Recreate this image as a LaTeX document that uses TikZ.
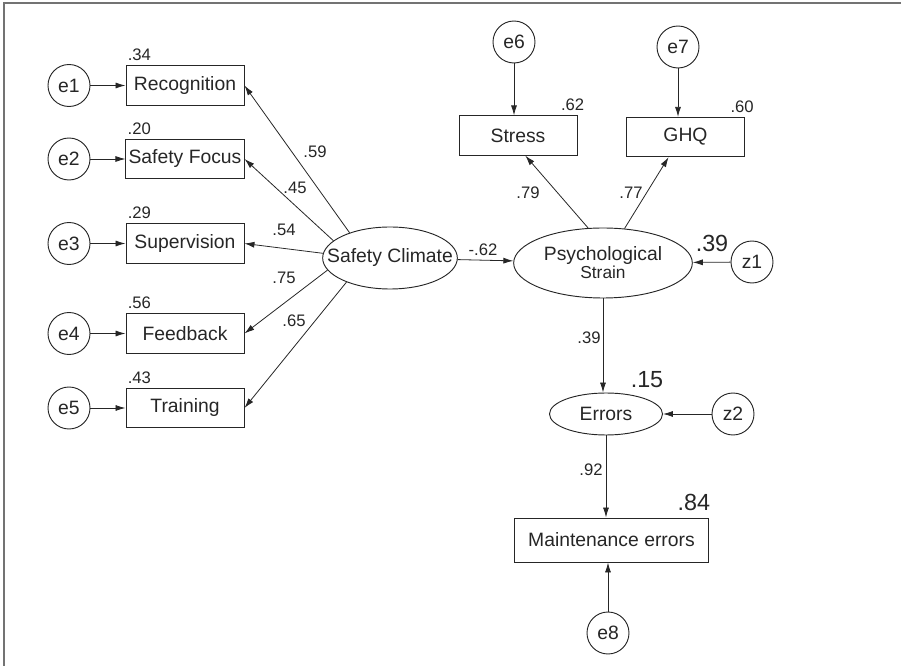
\documentclass[tikz,border=0pt]{standalone}
\usepackage{fontspec}
\setmainfont{Liberation Sans}
\usepackage{xcolor}
\usepackage{tikz}
\usetikzlibrary{arrows.meta,shapes.geometric}
\definecolor{ink}{gray}{0.15}
\definecolor{framegray}{gray}{0.45}
\tikzset{
  observed/.style={draw=ink,text=ink,rectangle,line width=0.7pt,inner sep=2pt,
    minimum width=88.5pt,minimum height=29.5pt,font=\fontsize{14.5}{16}\selectfont},
  latent/.style={draw=ink,text=ink,ellipse,line width=0.7pt,inner sep=0pt,
    font=\fontsize{14.5}{16}\selectfont},
  residual/.style={draw=ink,text=ink,circle,line width=0.7pt,inner sep=0pt,
    minimum size=31.5pt,font=\fontsize{14.5}{16}\selectfont},
  coef/.style={text=ink,inner sep=0pt,font=\fontsize{12.5}{14}\selectfont},
  bigcoef/.style={text=ink,inner sep=0pt,font=\fontsize{17.5}{19}\selectfont},
  regpath/.style={draw=ink,line width=0.6pt,-{Latex[length=7.5pt,width=4.5pt]}}
}
\begin{document}
\begin{tikzpicture}[x=0.75pt,y=-0.75pt]
  \useasboundingbox (0,0) rectangle (901,666);
  \draw[framegray,line width=1.5pt] (4,666) -- (4,3) -- (901,3);

  % safety climate and its indicators
  \node[latent,minimum width=101pt,minimum height=46.5pt] (sc) at (390,258) {\makebox[0pt]{Safety Climate}};
  \foreach \n/\y/\ang/\lab/\rsq/\w/\wx/\wy in {
    1/85.5/148/Recognition/.34/.59/315/152,
    2/159/163/Safety Focus/.20/.45/295/188,
    3/243.5/176/Supervision/.29/.54/284/230,
    4/333.5/191/Feedback/.56/.75/284/278,
    5/408/209/Training/.43/.65/294/321
  } {
    \node[residual] (e\n) at (69,\y) {e\n};
    \node[observed] (ind\n) at (185,\y) {\lab};
    \node[coef,anchor=south west] (r\n) at ([xshift=1.5pt,yshift=3pt]ind\n.north west) {\rsq};
    \draw[regpath] (e\n) -- (ind\n);
    \draw[regpath] (sc.\ang) -- (ind\n.east);
    \node[coef] (w\n) at (\wx,\wy) {\w};
  }

  % psychological strain and errors
  \node[latent,minimum width=134pt,minimum height=52.5pt,align=center] (ps) at (603,263)
    {Psychological\\[-2.5pt]{\fontsize{13}{14}\selectfont Strain}};
  \node[residual] (e6) at (514,42) {e6};
  \node[residual] (e7) at (678,47) {e7};
  \node[observed] (stress) at (518,135.5) {Stress};
  \node[observed] (ghq) at (685.5,137) {GHQ};
  \node[coef,anchor=south east] (rstress) at ([xshift=5.25pt,yshift=3pt]stress.north east) {.62};
  \node[coef,anchor=south east] (rghq) at ([xshift=6.75pt,yshift=3pt]ghq.north east) {.60};
  \node[residual] (z1) at (752,262) {z1};
  \node[latent,minimum width=84.75pt,minimum height=31.5pt] (err) at (606,414) {Errors};
  \node[residual] (z2) at (733,414) {z2};
  \node[observed,minimum width=146pt,minimum height=33pt] (maint) at (611.5,540) {Maintenance errors};
  \node[bigcoef,anchor=south east] (rmaint) at ([xshift=0.75pt,yshift=5pt]maint.north east) {.84};
  \node[residual] (e8) at (608,633) {e8};

  \draw[regpath] (sc) -- (ps);
  \draw[regpath] (e6) -- (e6 |- stress.north);
  \draw[regpath] (e7) -- (e7 |- ghq.north);
  \draw[regpath] (ps.113) -- (stress.-70);
  \draw[regpath] (ps.58) -- (ghq.-130);
  \draw[regpath] (z1) -- (ps);
  \draw[regpath] (ps.south) -- (ps.south |- err.north);
  \draw[regpath] (z2) -- (err);
  \draw[regpath] (err) -- (err |- maint.north);
  \draw[regpath] (e8) -- (e8 |- maint.south);

  \node[coef] (wsp) at (483,250) {-.62};
  \node[coef] (wstress) at (528,193) {.79};
  \node[coef] (wghq) at (631,193) {.77};
  \node[bigcoef] (rps) at (712,243) {.39};
  \node[coef] (wpe) at (589,338) {.39};
  \node[bigcoef] (rerr) at (647,380) {.15};
  \node[coef] (wem) at (591,470) {.92};
\end{tikzpicture}
\end{document}
